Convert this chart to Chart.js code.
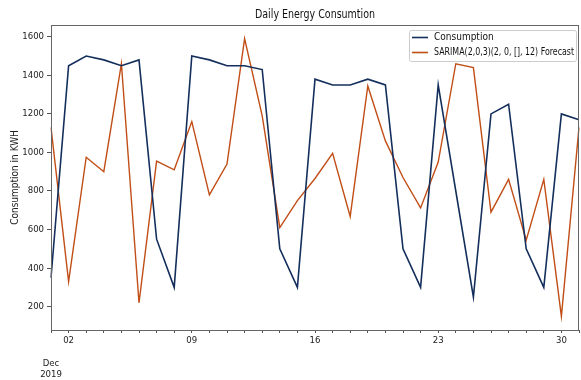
<!DOCTYPE html>
<html>
<head>
<meta charset="utf-8">
<script src="https://cdn.jsdelivr.net/npm/chart.js@4"></script>
<style>
  html, body { margin: 0; padding: 0; background: #fff; }
  #wrap { width: 581px; height: 380px; position: relative; }
</style>
</head>
<body>
<div id="wrap"><canvas id="energyChart" width="581" height="380"></canvas></div>
<script>
// --- DATA ---
const days = Array.from({ length: 31 }, (_, i) => i + 1); // Dec 1 .. Dec 31, 2019
const consumption = [350, 1450, 1500, 1480, 1450, 1480, 550, 300, 1500, 1480, 1450, 1450, 1430, 500, 300,
    1380, 1350, 1350, 1380, 1350, 500, 300, 1350, 800, 250, 1200, 1250, 500, 300, 1200, 1170];
const forecast = [1130, 330, 975, 900, 1460, 220, 955, 910, 1160, 780, 940, 1590, 1190, 610, 750,
    865, 995, 668, 1345, 1060, 870, 712, 950, 1460, 1440, 690, 860, 545, 860, 150, 1130];
const tickLabels = { 2: '02', 9: '09', 16: '16', 23: '23', 30: '30' };
const yTicks = [200, 400, 600, 800, 1000, 1200, 1400, 1600];
const seriesNames = ['Consumption', 'SARIMA(2,0,3)(2, 0, [], 12) Forecast'];

const FONT = "'Liberation Sans Narrow', 'DejaVu Sans Condensed', sans-serif";
const TEXT = '#222';

// title, frame and legend box drawn on top
const decor = {
    id: 'decor',
    afterDraw(c) {
        const { ctx, chartArea: a } = c;
        ctx.save();
        // frame
        ctx.strokeStyle = '#666';
        ctx.lineWidth = 1;
        ctx.strokeRect(a.left + 0.5, a.top + 0.5, a.right - a.left - 1, a.bottom - a.top);
        // title
        ctx.fillStyle = '#111';
        ctx.font = '12px ' + FONT;
        ctx.textAlign = 'center';
        ctx.textBaseline = 'middle';
        ctx.fillText('Daily Energy Consumtion', (a.left + a.right) / 2, 15, 120);
        // legend
        const bx = 409, by = 30, bw = 167, bh = 31;
        ctx.fillStyle = 'rgba(255,255,255,0.85)';
        ctx.strokeStyle = '#ccc';
        ctx.beginPath();
        ctx.roundRect(bx + 0.5, by + 0.5, bw, bh, 2);
        ctx.fill();
        ctx.stroke();
        ctx.font = '10px ' + FONT;
        ctx.textAlign = 'left';
        c.data.datasets.forEach((ds, i) => {
            const y = by + 7.5 + i * 15;
            ctx.strokeStyle = ds.borderColor;
            ctx.lineWidth = 1.6;
            ctx.beginPath();
            ctx.moveTo(bx + 3, y);
            ctx.lineTo(bx + 19, y);
            ctx.stroke();
            ctx.fillStyle = '#111';
            ctx.fillText(ds.label, bx + 25, y, 140);
        });
        ctx.restore();
    }
};

new Chart(document.getElementById('energyChart'), {
    type: 'line',
    data: {
        labels: days,
        datasets: [
            { label: seriesNames[0], data: consumption, borderColor: '#142f5c', borderWidth: 1.6, pointRadius: 0, tension: 0 },
            { label: seriesNames[1], data: forecast, borderColor: '#c04e16', borderWidth: 1.4, pointRadius: 0, tension: 0 }
        ]
    },
    options: {
        responsive: false,
        animation: false,
        layout: { padding: { left: 0, right: 1, top: 25, bottom: 0 } },
        plugins: { legend: { display: false }, tooltip: { enabled: false } },
        scales: {
            x: {
                type: 'category',
                offset: false,
                grid: { drawOnChartArea: false, drawTicks: true, tickLength: 3, color: '#555' },
                border: { color: '#555' },
                ticks: {
                    autoSkip: false, maxRotation: 0, padding: 2,
                    color: TEXT, font: { family: FONT, size: 9.5, lineHeight: 1.2 },
                    callback: (v, i) => i === 0 ? ['', '', 'Dec', '2019'] : (tickLabels[days[i]] || '')
                },
                afterFit: s => { s.height = 50; }
            },
            y: {
                min: 79, max: 1661,
                grid: { drawOnChartArea: false, drawTicks: true, tickLength: 4, color: '#555' },
                border: { color: '#555' },
                afterBuildTicks: s => { s.ticks = yTicks.map(v => ({ value: v })); },
                ticks: { padding: 3, color: TEXT, font: { family: FONT, size: 9.5 }, callback: v => String(v) },
                title: { display: true, text: 'Consumption in KWH', color: TEXT, font: { family: FONT, size: 10 }, padding: { top: 9, bottom: 0 } },
                afterFit: s => { s.width = 51; }
            }
        }
    },
    plugins: [decor]
});
</script>
</body>
</html>
